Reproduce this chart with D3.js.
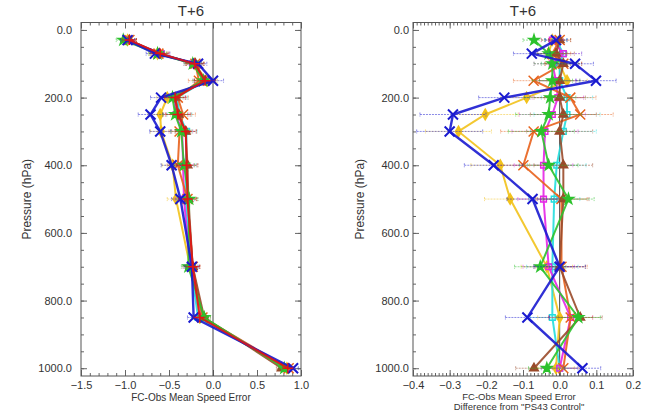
<!DOCTYPE html>
<html lang="en">
  <head>
    <meta charset="UTF-8" />
    <title>T+6 speed error profiles</title>
    <script src="https://d3js.org/d3.v7.min.js"></script>
    <style>
      body { margin: 0; background: #fff; }
      text { font-family: 'Liberation Sans', Arial, sans-serif; fill: #333; }
    </style>
  </head>
  <body>
    <svg width="647" height="415"></svg>

    <script>
      // Pressure levels (hPa)
      const levels = [30, 70, 100, 150, 200, 250, 300, 400, 500, 700, 850, 1000];

      // Left panel: FC-Obs mean speed error
      const ctrlMean    = [-0.95, -0.60, -0.21, -0.09, -0.43, -0.40, -0.31, -0.30, -0.29, -0.23, -0.15, 0.85];
      const blueMean    = [-0.97, -0.66, -0.17,  0.00, -0.59, -0.71, -0.60, -0.47, -0.37, -0.24, -0.22, 0.91];
      const yellowMean  = [-0.97, -0.63, -0.21, -0.07, -0.52, -0.60, -0.59, -0.46, -0.42, -0.26, -0.15, 0.84];
      const orangeMean  = [-0.95, -0.62, -0.20, -0.16, -0.40, -0.34, -0.38, -0.40, -0.29, -0.23, -0.12, 0.86];
      const magentaMean = [-0.97, -0.59, -0.23, -0.10, -0.44, -0.42, -0.35, -0.34, -0.33, -0.26, -0.12, 0.85];
      const cyanMean    = [-0.96, -0.59, -0.21, -0.09, -0.41, -0.38, -0.30, -0.31, -0.31, -0.25, -0.17, 0.85];
      const greenMean   = [-1.02, -0.63, -0.23, -0.11, -0.46, -0.43, -0.36, -0.33, -0.27, -0.28, -0.10, 0.81];
      const brownMean   = [-0.95, -0.61, -0.20, -0.09, -0.43, -0.39, -0.31, -0.29, -0.28, -0.23, -0.10, 0.78];

      // Right panel: difference from "PS43 Control"
      const blueDiff    = [-0.010, -0.076, 0.042, 0.099, -0.151, -0.291, -0.300, -0.180, -0.074, 0.000, -0.088, 0.062];
      const yellowDiff  = [-0.020, -0.030, 0.000, 0.020, -0.090, -0.203, -0.276, -0.162, -0.135, -0.035, 0.000, -0.010];
      const orangeDiff  = [0.000, -0.020, 0.010, -0.071, 0.029, 0.056, -0.071, -0.099, 0.005, 0.005, 0.030, 0.010];
      const magentaDiff = [-0.020, 0.010, -0.020, -0.010, -0.005, -0.020, -0.040, -0.044, -0.044, -0.030, 0.030, 0.000];
      const cyanDiff    = [-0.010, 0.010, 0.000, 0.000, 0.020, 0.020, 0.010, -0.008, -0.015, -0.020, -0.020, 0.000];
      const greenDiff   = [-0.070, -0.030, -0.020, -0.020, -0.026, -0.030, -0.050, -0.030, 0.024, -0.053, 0.051, -0.035];
      const brownDiff   = [0.000, -0.010, 0.010, 0.000, 0.000, 0.010, 0.000, 0.010, 0.010, 0.000, 0.056, -0.070];

      // Error bar half-widths per level
      const errLeft  = [0.08, 0.10, 0.10, 0.12, 0.12, 0.14, 0.12, 0.12, 0.10, 0.08, 0.07, 0.06];
      const errRight = [0.03, 0.05, 0.05, 0.055, 0.07, 0.09, 0.09, 0.08, 0.07, 0.07, 0.06, 0.05];

      // Tick values
      const yTicks = [0, 200, 400, 600, 800, 1000];
      const leftXTicks = [-1.5, -1.0, -0.5, 0.0, 0.5, 1.0];
      const rightXTicks = [-0.4, -0.3, -0.2, -0.1, 0.0, 0.1, 0.2];

      const colors = {
        ctrl: '#e01515', blue: '#1a1ad0', yellow: '#f2c21b', orange: '#e8621c',
        magenta: '#e526e5', cyan: '#25dede', green: '#2cc22c', brown: '#9a4a2a',
      };

      const leftSeries = [
        { key: 'yellow', marker: 'diamond', values: yellowMean },
        { key: 'cyan', marker: 'square', values: cyanMean },
        { key: 'magenta', marker: 'square', values: magentaMean },
        { key: 'orange', marker: 'x', values: orangeMean },
        { key: 'brown', marker: 'triangle', values: brownMean },
        { key: 'green', marker: 'star', values: greenMean },
        { key: 'blue', marker: 'x', values: blueMean },
        { key: 'ctrl', marker: 'plus', values: ctrlMean },
      ];

      const rightSeries = [
        { key: 'yellow', marker: 'diamond', values: yellowDiff },
        { key: 'cyan', marker: 'square', values: cyanDiff },
        { key: 'magenta', marker: 'square', values: magentaDiff },
        { key: 'orange', marker: 'x', values: orangeDiff },
        { key: 'brown', marker: 'triangle', values: brownDiff },
        { key: 'green', marker: 'star', values: greenDiff },
        { key: 'blue', marker: 'x', values: blueDiff },
      ];

      const svg = d3.select('svg');

      const y = d3.scaleLinear().domain([-22, 1023]).range([22.5, 376]);

      const panels = [
        {
          x: d3.scaleLinear().domain([-1.5, 1.0]).range([81, 301]),
          xTicks: leftXTicks, minorStep: 0.1, series: leftSeries, err: errLeft,
          labelPad: 9, yTitleX: 27, xLabel: ['FC-Obs Mean Speed Error'], xLabelY: 401,
        },
        {
          x: d3.scaleLinear().domain([-0.4, 0.2]).range([413, 633]),
          xTicks: rightXTicks, minorStep: 0.01, series: rightSeries, err: errRight,
          labelPad: 4, yTitleX: 360, xLabelY: 399.5,
          xLabel: ['FC-Obs Mean Speed Error', 'Difference from "PS43 Control"'],
        },
      ];

      function markerPath(type, s) {
        if (type === 'x') return `M${-s},${-s}L${s},${s}M${-s},${s}L${s},${-s}`;
        if (type === 'plus') return `M${-s},0L${s},0M0,${-s}L0,${s}`;
        const sym = { diamond: d3.symbolDiamond, square: d3.symbolSquare, triangle: d3.symbolTriangle, star: d3.symbolStar }[type];
        return d3.symbol(sym, s * s * 2)();
      }

      const minorY = d3.range(0, 1001, 50);

      panels.forEach((p) => {
        const x = p.x;
        const [x0, x1] = x.range();
        const [y0, y1] = y.range();
        const g = svg.append('g');
        const eps = p.minorStep / 10;
        const [d0, d1] = x.domain();
        const minorX = d3.range(d0, d1 + eps, p.minorStep).map((v) => +v.toFixed(3));

        // minor ticks on all sides
        g.append('g').attr('transform', `translate(0,${y1})`)
          .call(d3.axisBottom(x).tickValues(minorX).tickSize(-3).tickFormat(''));
        g.append('g').attr('transform', `translate(0,${y0})`)
          .call(d3.axisTop(x).tickValues(minorX).tickSize(-3).tickFormat(''));
        g.append('g').attr('transform', `translate(${x0},0)`)
          .call(d3.axisLeft(y).tickValues(minorY).tickSize(-3).tickFormat(''));
        g.append('g').attr('transform', `translate(${x1},0)`)
          .call(d3.axisRight(y).tickValues(minorY).tickSize(-3).tickFormat(''));

        // major ticks
        g.append('g').attr('class', 'xaxis').attr('transform', `translate(0,${y1})`)
          .call(d3.axisBottom(x).tickValues(p.xTicks).tickSize(-6).tickPadding(5).tickFormat(d3.format('.1f')));
        g.append('g').attr('transform', `translate(0,${y0})`)
          .call(d3.axisTop(x).tickValues(p.xTicks).tickSize(-6).tickFormat(''));
        g.append('g').attr('class', 'yaxis').attr('transform', `translate(${x0},0)`)
          .call(d3.axisLeft(y).tickValues(yTicks).tickSize(-6).tickPadding(p.labelPad).tickFormat(d3.format('.1f')));
        g.append('g').attr('transform', `translate(${x1},0)`)
          .call(d3.axisRight(y).tickValues(yTicks).tickSize(-6).tickFormat(''));

        g.selectAll('.domain').remove();
        g.selectAll('.tick line').attr('stroke', '#666');
        g.selectAll('.tick text').attr('font-size', 11).attr('font-family', null).attr('fill', '#333');

        // plot box and zero line
        g.append('rect').attr('x', x0).attr('y', y0).attr('width', x1 - x0).attr('height', y1 - y0)
          .attr('fill', 'none').attr('stroke', '#555').attr('stroke-width', 1);
        g.append('line').attr('x1', x(0)).attr('x2', x(0)).attr('y1', y0).attr('y2', y1)
          .attr('stroke', '#444').attr('stroke-width', 1);

        const line = d3.line().x((d) => x(d.v)).y((d) => y(d.p));

        p.series.forEach((s) => {
          const c = colors[s.key];
          const pts = levels.map((lv, i) => ({ p: lv, v: s.values[i], e: p.err[i] }));
          const sg = g.append('g');

          // error bars
          pts.forEach((d) => {
            const xa = x(d.v - d.e), xb = x(d.v + d.e), yy = y(d.p);
            sg.append('path')
              .attr('d', `M${xa},${yy}L${xb},${yy}M${xa},${yy - 2}L${xa},${yy + 2}M${xb},${yy - 2}L${xb},${yy + 2}`)
              .attr('stroke', c).attr('stroke-width', 1).attr('stroke-opacity', 0.5)
              .attr('stroke-dasharray', '2,1').attr('fill', 'none');
          });

          sg.append('path').datum(pts).attr('d', line)
            .attr('fill', 'none').attr('stroke', c)
            .attr('stroke-width', s.key === 'blue' ? 2.4 : 2).attr('stroke-opacity', 0.9);

          const filled = ['diamond', 'triangle', 'star'].includes(s.marker);
          sg.selectAll('.mk').data(pts).enter().append('path')
            .attr('transform', (d) => `translate(${x(d.v)},${y(d.p)})`)
            .attr('d', markerPath(s.marker, s.marker === 'x' || s.marker === 'plus' ? 5 : 4))
            .attr('fill', filled ? c : 'none')
            .attr('stroke', c).attr('stroke-width', s.key === 'blue' ? 2 : 1.5);
        });

        // titles
        svg.append('text').attr('x', (x0 + x1) / 2).attr('y', 16).attr('text-anchor', 'middle')
          .attr('font-size', 15).text('T+6');
        svg.append('text')
          .attr('transform', `translate(${p.yTitleX},${(y0 + y1) / 2}) rotate(-90)`)
          .attr('text-anchor', 'middle').attr('dy', '0.35em').attr('font-size', 12)
          .text('Pressure (hPa)');
        p.xLabel.forEach((t, i) => {
          svg.append('text').attr('x', (x0 + x1) / 2 + (p.xLabel.length > 1 ? -4 : 0))
            .attr('y', p.xLabelY + i * 10.7).attr('text-anchor', 'middle')
            .attr('font-size', p.xLabel.length > 1 ? 9.5 : 10)
            .text(t);
        });
      });
    </script>
  </body>
</html>
